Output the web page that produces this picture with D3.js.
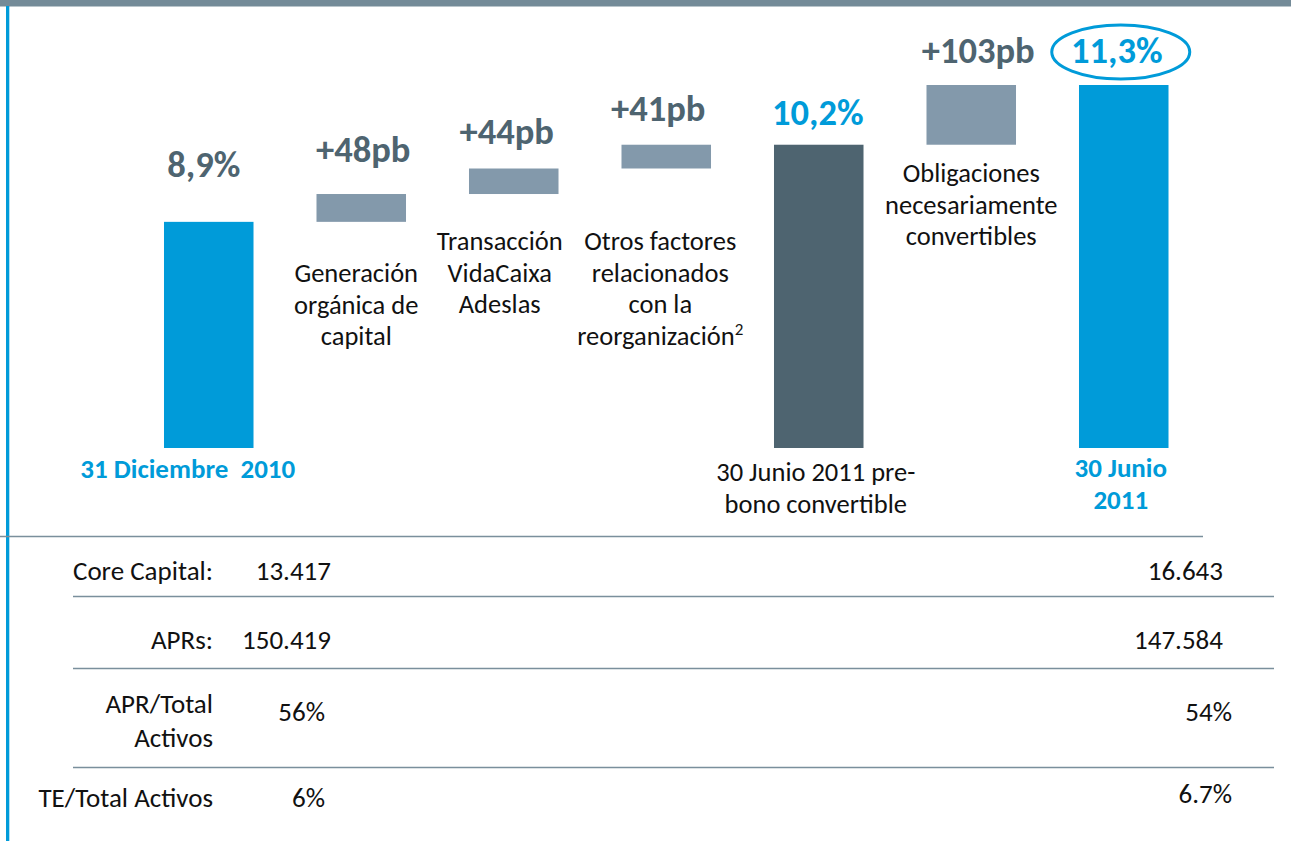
<!DOCTYPE html>
<html>
<head>
<meta charset="utf-8">
<script src="https://cdn.jsdelivr.net/npm/d3@7"></script>
<style>
  body { margin: 0; background: #fff; }
  svg { display: block; font-family: Carlito, Lato, "Open Sans", sans-serif; }
  svg text { white-space: pre; }
</style>
</head>
<body>
<div id="chart"></div>
<script>
// waterfall steps
var stepNames = [
    ["31 Diciembre  2010"],
    ["Generación", "orgánica de", "capital"],
    ["Transacción", "VidaCaixa", "Adeslas"],
    ["Otros factores", "relacionados", "con la", "reorganización"],
    ["30 Junio 2011 pre-", "bono convertible"],
    ["Obligaciones", "necesariamente", "convertibles"],
    ["30 Junio", "2011"]
];
var stepKinds = ["total", "delta", "delta", "delta", "subtotal", "delta", "total"];
// deltas in percentage points; totals are the running sum
var stepValues = [8.9, 0.48, 0.44, 0.41, null, 1.03, null];
var stepLabels = ["8,9%", "+48pb", "+44pb", "+41pb", "10,2%", "+103pb", "11,3%"];

// table under the chart
var rowNames = [["Core Capital:"], ["APRs:"], ["APR/Total", "Activos"], ["TE/Total Activos"]];
var valuesDec2010 = ["13.417", "150.419", "56%", "6%"];
var valuesJun2011 = ["16.643", "147.584", "54%", "6.7%"];

// layout tweaks
var labelGap = [45, 32, 25, 24, 20, 22, 22];
var labelDx = [-5, 2, -7, -8, -1, 7, -7];
var nameY = [478, 282, 250, 250, 481, 182, 477];
var nameDx = [-21, -5, -14, -6, -3, 0, -3];
var rowBase = [580, 649, 713, 807];
var rowValDy = [0, 0, 8, 0];
var leftColEnd = [331, 331, 325, 325];
var rightColEnd = [1223, 1223, 1232, 1232];

var BLUE = "#009bd9", SLATE = "#4e6470", DELTA = "#8399ab", LINE = "#7a8f9c";
var NAME_SIZE = 26.5, TABLE_SIZE = 27;

var W = 1291, H = 841;
var svg = d3.select("#chart").append("svg")
    .attr("width", W).attr("height", H);

// running totals
var steps = [];
var run = 0;
stepValues.forEach(function(v, i){
    var k = stepKinds[i];
    var lo, hi;
    if(k == "delta"){ lo = run; hi = run + v; run = hi; }
    else { if(v != null) run = v; lo = null; hi = run; }
    steps.push({i: i, kind: k, lo: lo, hi: hi, label: stepLabels[i], name: stepNames[i]});
});

var x = d3.scaleBand()
    .domain(d3.range(steps.length))
    .range([132.5, 1200])
    .paddingInner(0.413)
    .paddingOuter(0.2065);
var y = d3.scaleLinear()
    .domain([5.0, d3.max(steps, function(d){ return d.hi; })])
    .range([448, 85]);

// frame
svg.append("rect").attr("x", 0).attr("y", 0).attr("width", W).attr("height", 6.5).attr("fill", "#748b98");
svg.append("rect").attr("x", 6).attr("y", 6).attr("width", 3.3).attr("height", H - 6).attr("fill", BLUE);

// bars
svg.selectAll("rect.bar").data(steps).enter().append("rect")
    .attr("class", "bar")
    .attr("x", function(d){ return x(d.i); })
    .attr("width", x.bandwidth())
    .attr("y", function(d){ return y(d.hi); })
    .attr("height", function(d){
        var base = d.lo == null ? y.domain()[0] : d.lo;
        return y(base) - y(d.hi);
    })
    .attr("fill", function(d){
        return d.kind == "total" ? BLUE : (d.kind == "subtotal" ? SLATE : DELTA);
    });

// value labels
svg.selectAll("text.val").data(steps).enter().append("text")
    .attr("class", "val")
    .attr("x", function(d){ return x(d.i) + x.bandwidth()/2 + labelDx[d.i]; })
    .attr("y", function(d){ return y(d.hi) - labelGap[d.i]; })
    .attr("text-anchor", "middle")
    .attr("font-size", 36.5)
    .attr("font-weight", "bold")
    .attr("fill", function(d){ return d.i == 4 || d.i == 6 ? BLUE : SLATE; })
    .text(function(d){ return d.label; });

// ring round the final ratio
var last = steps[steps.length - 1];
svg.append("ellipse")
    .attr("cx", x(last.i) + x.bandwidth()/2 - 3)
    .attr("cy", y(last.hi) - 33)
    .attr("rx", 69).attr("ry", 27)
    .attr("fill", "none").attr("stroke", BLUE).attr("stroke-width", 3);

// step names
var names = svg.selectAll("text.name").data(steps).enter().append("text")
    .attr("class", "name")
    .attr("text-anchor", "middle")
    .attr("font-size", function(d){ return d.kind == "total" ? 27 : NAME_SIZE; })
    .attr("font-weight", function(d){ return d.kind == "total" ? "bold" : "normal"; })
    .attr("fill", function(d){ return d.kind == "total" ? BLUE : "#111"; });
names.each(function(d){
    var t = d3.select(this);
    var cx = x(d.i) + x.bandwidth()/2 + nameDx[d.i];
    d.name.forEach(function(line, j){
        t.append("tspan")
            .attr("x", cx)
            .attr("y", nameY[d.i] + j*31.5)
            .text(line);
        if(d.i == 3 && j == d.name.length - 1){
            t.append("tspan").attr("dy", -10).attr("font-size", 17).text("2");
        }
    });
});

// table
svg.append("line").attr("x1", 0).attr("x2", 1203).attr("y1", 536.5).attr("y2", 536.5)
    .attr("stroke", LINE).attr("stroke-width", 1.3);
[596.5, 668.5, 767.5].forEach(function(ly){
    svg.append("line").attr("x1", 73).attr("x2", 1274).attr("y1", ly).attr("y2", ly)
        .attr("stroke", LINE).attr("stroke-width", 1.3);
});

rowNames.forEach(function(lines, r){
    var t = svg.append("text")
        .attr("text-anchor", "end")
        .attr("font-size", TABLE_SIZE)
        .attr("fill", "#111");
    lines.forEach(function(line, j){
        t.append("tspan").attr("x", 213).attr("y", rowBase[r] + j*34).text(line);
    });
    svg.append("text")
        .attr("x", leftColEnd[r]).attr("y", rowBase[r] + rowValDy[r])
        .attr("text-anchor", "end").attr("font-size", TABLE_SIZE).attr("fill", "#111")
        .text(valuesDec2010[r]);
    svg.append("text")
        .attr("x", rightColEnd[r]).attr("y", rowBase[r] + rowValDy[r] - (r == 3 ? 4 : 0))
        .attr("text-anchor", "end").attr("font-size", TABLE_SIZE).attr("fill", "#111")
        .text(valuesJun2011[r]);
});
</script>
</body>
</html>
